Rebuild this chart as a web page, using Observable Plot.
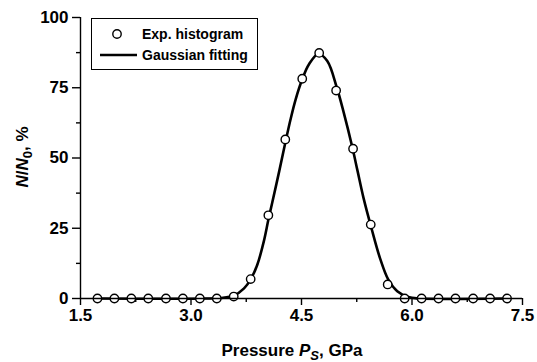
<!DOCTYPE html>
<html>
<head>
<meta charset="utf-8">
<script src="https://cdn.jsdelivr.net/npm/d3@7"></script>
<script src="https://cdn.jsdelivr.net/npm/@observablehq/plot@0.6"></script>
<style>
  html, body { margin: 0; padding: 0; background: #fff; }
  #wrap { position: relative; width: 537px; height: 362px; font-family: "Liberation Sans", Arial, sans-serif; }
  #legend { position: absolute; left: 91px; top: 18px; width: 167px; height: 52px; border: 1.2px solid #000; background: #fff; box-sizing: border-box; }
</style>
</head>
<body>
<div id="wrap"></div>
<script>
// Experimental histogram points
const pressure = [1.73, 1.96, 2.19, 2.42, 2.66, 2.89, 3.12, 3.35, 3.58, 3.81, 4.05, 4.28, 4.51, 4.74, 4.97, 5.20, 5.44, 5.67, 5.90, 6.13, 6.36, 6.59, 6.83, 7.06, 7.29];
const fraction = [0, 0, 0, 0, 0, 0, 0, 0, 0.7, 6.9, 29.6, 56.6, 78.2, 87.4, 74.0, 53.3, 26.3, 5.0, 0, 0, 0, 0, 0, 0, 0];

// Gaussian fitting curve
const fitX = [1.73, 3.20, 3.40, 3.58, 3.72, 3.81, 3.90, 3.99, 4.05, 4.10, 4.20, 4.28, 4.35, 4.42, 4.51, 4.60, 4.73, 4.85, 4.98, 5.07, 5.19, 5.26, 5.34, 5.45, 5.57, 5.68, 5.80, 5.95, 6.10, 7.29];
const fitY = [0, 0, 0.2, 1.0, 3.6, 6.8, 12.0, 20.5, 28.0, 33.8, 45.6, 55.4, 63.6, 70.8, 78.0, 83.3, 87.0, 84.5, 75.0, 66.5, 53.8, 45.5, 36.0, 25.0, 14.0, 6.6, 2.6, 0.5, 0, 0];

const xTicks = [1.5, 3.0, 4.5, 6.0, 7.5];
const xMinor = [2.25, 3.75, 5.25, 6.75];
const yTicks = [0, 25, 50, 75, 100];
const yMinor = [12.5, 37.5, 62.5, 87.5];

const pts = pressure.map((x, i) => ({x, y: fraction[i]}));
const fit = fitX.map((x, i) => ({x, y: fitY[i]}));

const font = "Liberation Sans, Arial, sans-serif";

const chart = Plot.plot({
  width: 537,
  height: 362,
  marginLeft: 80,
  marginRight: 15,
  marginTop: 17,
  marginBottom: 64,
  style: {fontFamily: font, fontSize: "17px", fontWeight: "bold", color: "#000", background: "#fff"},
  x: {domain: [1.5, 7.5]},
  y: {domain: [0, 100]},
  marks: [
    Plot.line(fit, {x: "x", y: "y", curve: "catmull-rom", stroke: "#000", strokeWidth: 2.6}),
    Plot.dot(pts, {x: "x", y: "y", r: 4.2, fill: "#fff", stroke: "#000", strokeWidth: 1.4}),
    Plot.ruleY([0], {stroke: "#000", strokeWidth: 1.4}),
    Plot.ruleX([1.5], {y1: 0, y2: 100, stroke: "#000", strokeWidth: 1.4}),
    Plot.axisX(xTicks, {tickSize: 7, tickPadding: 3, tickFormat: d3.format(".1f"), label: null, strokeWidth: 1.4, fontSize: 17}),
    Plot.axisX(xMinor, {tickSize: 4, text: null, label: null, strokeWidth: 1.4}),
    Plot.axisY(yTicks, {tickSize: 8, tickPadding: 4, label: null, strokeWidth: 1.4, fontSize: 17}),
    Plot.axisY(yMinor, {tickSize: 4, text: null, label: null, strokeWidth: 1.4})
  ]
});

const svg = d3.select(chart);
// x-axis title
const xt = svg.append("text").attr("x", 292).attr("y", 356).attr("text-anchor", "middle")
  .attr("font-family", font).attr("font-weight", "bold").attr("font-size", 17).attr("fill", "#000");
xt.append("tspan").text("Pressure ");
xt.append("tspan").attr("font-style", "italic").text("P");
xt.append("tspan").attr("font-style", "italic").attr("font-size", 13).attr("dy", 4).text("S");
xt.append("tspan").attr("dy", -4).text(", GPa");
// y-axis title
const yt = svg.append("text").attr("transform", "translate(28,157) rotate(-90)").attr("text-anchor", "middle")
  .attr("font-family", font).attr("font-weight", "bold").attr("font-size", 17).attr("fill", "#000");
yt.append("tspan").attr("font-style", "italic").text("N");
yt.append("tspan").text("/");
yt.append("tspan").attr("font-style", "italic").text("N");
yt.append("tspan").attr("font-size", 13).attr("dy", 4).text("0");
yt.append("tspan").attr("dy", -4).text(", %");

const wrap = document.getElementById("wrap");
wrap.appendChild(chart);

// Legend box
const legend = document.createElement("div");
legend.id = "legend";
legend.innerHTML = `
<svg width="167" height="52" style="position:absolute;left:-1px;top:-1px;overflow:visible">
  <circle cx="26" cy="16" r="4.2" fill="#fff" stroke="#000" stroke-width="1.4"></circle>
  <text x="51" y="21" font-family="${font}" font-weight="bold" font-size="14" fill="#000">Exp. histogram</text>
  <line x1="9" x2="46" y1="37" y2="37" stroke="#000" stroke-width="2.6"></line>
  <text x="51" y="42" font-family="${font}" font-weight="bold" font-size="14" fill="#000">Gaussian fitting</text>
</svg>`;
wrap.appendChild(legend);
</script>
</body>
</html>
